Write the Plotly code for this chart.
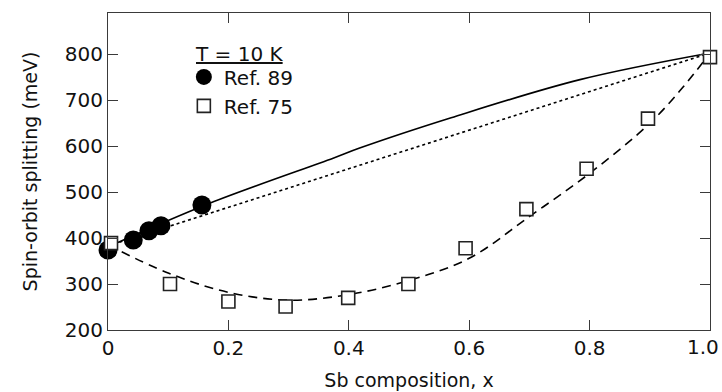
import plotly.graph_objects as go

# Data
ref89_x = [0.0, 0.042, 0.068, 0.088, 0.156]
ref89_y = [374, 396, 416, 427, 472]

ref75_x = [0.005, 0.103, 0.200, 0.295, 0.399, 0.499, 0.594, 0.695, 0.795, 0.897, 1.0]
ref75_y = [389, 300, 262, 251, 270, 300, 378, 463, 551, 660, 794]

solid_x = [0.0, 0.169, 0.374, 0.418, 0.570, 0.784, 1.0]
solid_y = [381, 476, 574, 596, 662, 745, 803]

dotted_x = [0.0, 1.0]
dotted_y = [383, 803]

dashed_x = [0.0, 0.1, 0.2, 0.3, 0.4, 0.5, 0.6, 0.7, 0.8, 0.9, 0.956, 1.0]
dashed_y = [385, 324, 282, 265, 277, 308, 356, 447, 541, 650, 730, 803]

x_ticks = [0, 0.2, 0.4, 0.6, 0.8, 1.0]
x_tick_labels = ["0", "0.2", "0.4", "0.6", "0.8", ""]
x_last_label = "1.0"
y_ticks = [200, 300, 400, 500, 600, 700, 800]

FONT = "DejaVu Sans, Arial, sans-serif"
AXC = "#3a3a3a"

fig = go.Figure()
fig.add_trace(go.Scatter(x=solid_x, y=solid_y, mode="lines", line=dict(color="black", width=1.6, shape="spline"),
                         showlegend=False, hoverinfo="skip"))
fig.add_trace(go.Scatter(x=dotted_x, y=dotted_y, mode="lines", line=dict(color="black", width=1.6, dash="dot"),
                         showlegend=False, hoverinfo="skip"))
fig.add_trace(go.Scatter(x=dashed_x, y=dashed_y, mode="lines",
                         line=dict(color="black", width=1.6, dash="9px,6px", shape="spline"),
                         showlegend=False, hoverinfo="skip"))
fig.add_trace(go.Scatter(x=ref89_x, y=ref89_y, mode="markers", name="Ref. 89", cliponaxis=False,
                         marker=dict(symbol="circle", size=19, color="black", line=dict(width=0))))
fig.add_trace(go.Scatter(x=ref75_x, y=ref75_y, mode="markers", name="Ref. 75", cliponaxis=False,
                         marker=dict(symbol="square", size=13, color="white", line=dict(color="#222", width=1.6))))

fig.update_layout(
    width=722, height=392,
    margin=dict(l=108, r=12, t=13, b=62),
    plot_bgcolor="white", paper_bgcolor="white",
    font=dict(family=FONT, size=20, color="#111"),
    showlegend=True,
    legend=dict(x=0.126, y=0.86, xanchor="left", yanchor="top", bgcolor="rgba(0,0,0,0)",
                font=dict(size=20), itemsizing="trace", tracegroupgap=0),
    annotations=[
        dict(text="<u>T = 10 K</u>", x=0.141, y=0.872, xref="paper", yref="paper",
             xanchor="left", yanchor="middle", showarrow=False, font=dict(size=20)),
        dict(text=x_last_label, x=x_ticks[-1], y=0, xref="x", yref="paper",
             xanchor="right", yanchor="top", xshift=10, yshift=-4, showarrow=False,
             font=dict(size=20), borderpad=0),
    ],
)
fig.update_xaxes(range=[0, 1], tickvals=x_ticks, ticktext=x_tick_labels, ticks="inside", ticklen=10,
                 tickcolor=AXC, showline=True, linecolor=AXC, linewidth=1.2, mirror="ticks",
                 automargin=False,
                 showgrid=False, zeroline=False,
                 title=dict(text="Sb composition, x", standoff=14, font=dict(size=19)))
fig.update_yaxes(range=[200, 890], tickvals=y_ticks, ticks="inside", ticklen=10,
                 tickcolor=AXC, showline=True, linecolor=AXC, linewidth=1.2, mirror="ticks",
                 automargin=False,
                 showgrid=False, zeroline=False,
                 title=dict(text="Spin-orbit splitting (meV)", standoff=22, font=dict(size=19)))

fig.write_html("out.html")
